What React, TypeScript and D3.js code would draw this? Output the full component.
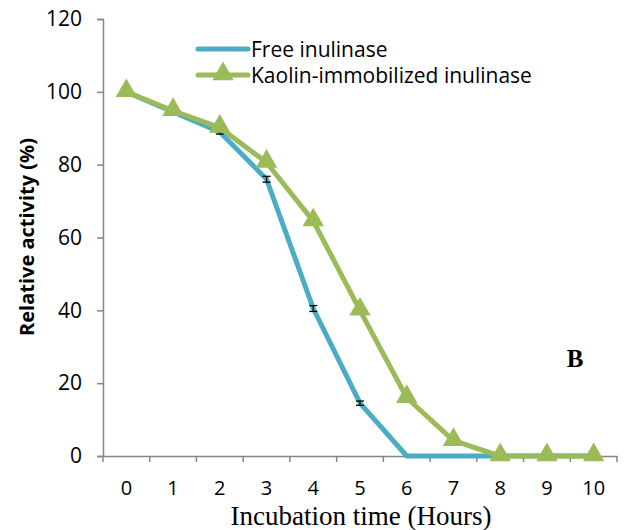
import React, { useEffect, useRef } from 'react';
import * as d3 from 'd3';

const hours = ['0', '1', '2', '3', '4', '5', '6', '7', '8', '9', '10'];
const freeActivity = [100, 94.5, 89, 76, 40.5, 14.5, 0, 0, 0, 0, 0];
const freeError = [0.6, 0.5, 0.6, 0.8, 0.8, 0.6, 0, 0, 0, 0, 0];
const kaolinActivity = [100, 94.8, 90.2, 80.6, 64.5, 40, 16, 4.2, 0, 0, 0];
const kaolinError = [0.6, 0.5, 0.5, 0.6, 0.6, 0.5, 0.5, 0.5, 0, 0, 0];
const yTicks = [0, 20, 40, 60, 80, 100, 120];

const BLUE = '#4bacc6';
const GREEN = '#9bbb59';
const SANS = 'Open Sans, Liberation Sans, sans-serif';
const SERIF = 'Liberation Serif, Times New Roman, serif';

const App: React.FC = () => {
  const ref = useRef<SVGSVGElement>(null);

  useEffect(() => {
    const svg = d3.select(ref.current);
    svg.selectAll('*').remove();

    const left = 103, right = 617, top = 19, bottom = 456;

    const x = d3.scaleBand().domain(hours).range([left, right]);
    const y = d3.scaleLinear().domain([0, 120]).range([bottom, top]);
    const cx = (i: number) => (x(hours[i]) ?? 0) + x.bandwidth() / 2;

    // y axis
    const ya = svg.append('g')
      .attr('transform', `translate(${left},0)`)
      .call(d3.axisLeft(y).tickValues(yTicks).tickSize(6).tickPadding(15));
    ya.select('.domain').attr('stroke', '#868686').attr('stroke-width', 1.5);
    ya.selectAll('.tick line').attr('stroke', '#868686').attr('stroke-width', 1.5);
    ya.selectAll('.tick text')
      .attr('font-family', SANS).attr('font-size', 21).attr('fill', '#000');

    // x axis: ticks on band edges
    const xa = svg.append('g')
      .attr('transform', `translate(0,${bottom})`)
      .call(d3.axisBottom(x).tickSize(0).tickPadding(25));
    xa.select('.domain').attr('stroke', '#868686').attr('stroke-width', 1.5);
    xa.selectAll('.tick text')
      .attr('font-family', SANS).attr('font-size', 20).attr('fill', '#000');
    const edges = hours.map(h => x(h) ?? 0).concat([right]);
    svg.append('g').selectAll('line').data(edges).enter().append('line')
      .attr('x1', d => d).attr('x2', d => d)
      .attr('y1', bottom).attr('y2', bottom + 6)
      .attr('stroke', '#868686').attr('stroke-width', 1.5);

    // axis titles
    svg.append('text')
      .attr('transform', `translate(34,237) rotate(-90)`)
      .attr('text-anchor', 'middle')
      .attr('font-family', SANS)
      .attr('font-weight', 'bold').attr('font-size', 20)
      .text('Relative activity (%)');
    svg.append('text')
      .attr('x', 361).attr('y', 525)
      .attr('text-anchor', 'middle')
      .attr('font-family', SERIF)
      .attr('font-size', 27)
      .text('Incubation time (Hours)');

    const line = d3.line<number>().x((_, i) => cx(i)).y(d => y(d));

    const errBars = (vals: number[], errs: number[]) => {
      const g = svg.append('g').attr('stroke', '#000').attr('stroke-width', 1.3);
      vals.forEach((v, i) => {
        if (!errs[i]) return;
        [v - errs[i], v + errs[i]].forEach(e => {
          g.append('line')
            .attr('x1', cx(i) - 4).attr('x2', cx(i) + 4)
            .attr('y1', y(e)).attr('y2', y(e));
        });
        g.append('line')
          .attr('x1', cx(i)).attr('x2', cx(i))
          .attr('y1', y(v - errs[i])).attr('y2', y(v + errs[i]));
      });
    };

    // free inulinase
    svg.append('path').datum(freeActivity)
      .attr('d', line).attr('fill', 'none')
      .attr('stroke', BLUE).attr('stroke-width', 5).attr('stroke-linejoin', 'round');
    errBars(freeActivity, freeError);

    // kaolin-immobilized
    svg.append('path').datum(kaolinActivity)
      .attr('d', line).attr('fill', 'none')
      .attr('stroke', GREEN).attr('stroke-width', 5).attr('stroke-linejoin', 'round');
    errBars(kaolinActivity, kaolinError);
    const tri = d3.symbol().type(d3.symbolTriangle).size(200);
    svg.append('g').selectAll('path').data(kaolinActivity).enter().append('path')
      .attr('d', tri)
      .attr('transform', (d, i) => `translate(${cx(i)},${y(d) - 1})`)
      .attr('fill', GREEN);

    // legend
    const lg = svg.append('g').attr('font-family', SANS).attr('font-size', 21);
    lg.append('line').attr('x1', 198).attr('x2', 248).attr('y1', 49).attr('y2', 49)
      .attr('stroke', BLUE).attr('stroke-width', 5).attr('stroke-linecap', 'round');
    lg.append('text').attr('x', 251).attr('y', 57).text('Free inulinase');
    lg.append('line').attr('x1', 198).attr('x2', 248).attr('y1', 75).attr('y2', 75)
      .attr('stroke', GREEN).attr('stroke-width', 5).attr('stroke-linecap', 'round');
    lg.append('path').attr('d', tri).attr('transform', 'translate(223,74)').attr('fill', GREEN);
    lg.append('text').attr('x', 251).attr('y', 83).text('Kaolin-immobilized inulinase');

    svg.append('text')
      .attr('x', 575).attr('y', 367).attr('text-anchor', 'middle')
      .attr('font-family', SERIF)
      .attr('font-weight', 'bold').attr('font-size', 25)
      .text('B');
  }, []);

  return (
    <svg ref={ref} width={625} height={530}
      style={{ position: 'absolute', left: 0, top: 0, background: '#fff' }} />
  );
};

export default App;
